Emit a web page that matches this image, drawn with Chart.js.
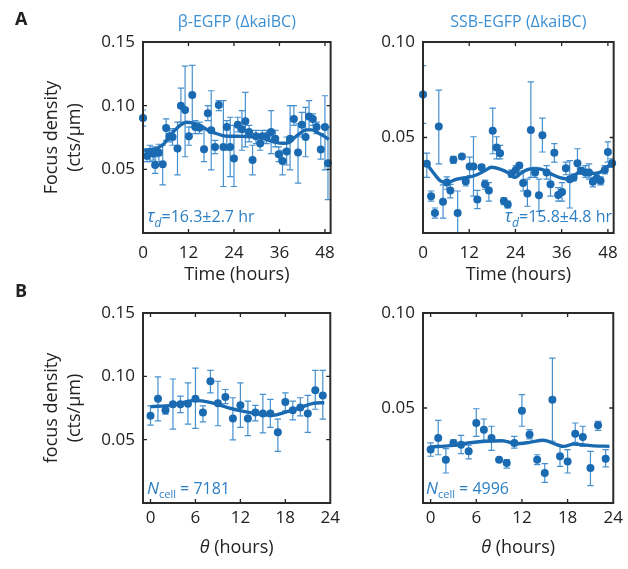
<!DOCTYPE html>
<html><head><meta charset="utf-8">
<script src="https://cdn.jsdelivr.net/npm/chart.js@4.4.1/dist/chart.umd.min.js"></script>
<style>
html,body{margin:0;padding:0;background:#fff;}
#wrap{position:relative;width:628px;height:569px;overflow:hidden;background:#fff;}
canvas{position:absolute;}
</style></head><body>
<div id="wrap">
<canvas id="cA1" width="345" height="284" style="left:0;top:0"></canvas>
<canvas id="cA2" width="283" height="284" style="left:345px;top:0"></canvas>
<canvas id="cB1" width="345" height="285" style="left:0;top:284px"></canvas>
<canvas id="cB2" width="283" height="285" style="left:345px;top:284px"></canvas>
</div>
<script>
// ---------- Panel A left: beta-EGFP (time course) ----------
const a1Time = [0, 1.1, 1.8, 2.7, 3.2, 4.2, 5.2, 6.1, 7.0, 7.8, 9.1, 10.0, 11.1, 12.1, 13.0, 13.8, 14.9, 16.1, 17.1, 18.0, 19.0, 20.0, 21.2, 22.1, 23.0, 24.0, 25.0, 26.1, 27.0, 28.0, 28.9, 29.8, 30.9, 31.5, 32.6, 33.8, 34.9, 35.8, 36.8, 37.9, 38.8, 39.8, 40.9, 41.9, 42.9, 43.8, 44.8, 45.8, 46.9, 48.0, 48.8];
const a1Density = [0.0904, 0.0604, 0.0637, 0.0624, 0.0534, 0.063, 0.0539, 0.0824, 0.0759, 0.0754, 0.0663, 0.100, 0.0966, 0.0759, 0.1083, 0.0832, 0.0826, 0.0658, 0.094, 0.0806, 0.0676, 0.1005, 0.0676, 0.0832, 0.0676, 0.0586, 0.085, 0.0814, 0.0878, 0.0793, 0.0573, 0.0759, 0.0702, 0.0759, 0.0759, 0.0793, 0.0741, 0.0619, 0.0565, 0.064, 0.0741, 0.0896, 0.0632, 0.085, 0.0754, 0.0915, 0.0896, 0.0832, 0.0656, 0.0832, 0.0547];
const a1Upper = [0.0966, 0.0663, 0.0689, 0.0676, 0.0598, 0.0697, 0.0689, 0.0896, 0.0806, 0.0819, 0.087, 0.1137, 0.1311, 0.0832, 0.1316, 0.0883, 0.087, 0.0819, 0.100, 0.1117, 0.0728, 0.1039, 0.1039, 0.0883, 0.0909, 0.0845, 0.0909, 0.0961, 0.1104, 0.0845, 0.0689, 0.0806, 0.0754, 0.0806, 0.0806, 0.0961, 0.0806, 0.0676, 0.065, 0.0754, 0.100, 0.100, 0.0858, 0.0948, 0.0987, 0.1039, 0.0935, 0.087, 0.078, 0.1078, 0.0832];
const a1Lower = [0.0839, 0.056, 0.056, 0.0573, 0.0469, 0.056, 0.0378, 0.0728, 0.0715, 0.0689, 0.0456, 0.087, 0.0599, 0.0689, 0.0832, 0.078, 0.078, 0.056, 0.0883, 0.0495, 0.0624, 0.0961, 0.0365, 0.065, 0.0443, 0.0365, 0.0793, 0.065, 0.0676, 0.0715, 0.0456, 0.0702, 0.065, 0.0715, 0.0702, 0.0624, 0.0676, 0.056, 0.0456, 0.0534, 0.0495, 0.0845, 0.0391, 0.0754, 0.0599, 0.0806, 0.0845, 0.078, 0.058, 0.0495, 0.0262];
const a1FitTime = [0.3, 2, 4, 5.5, 7, 8.5, 10, 11.5, 13, 15, 17, 19, 21, 23, 25, 27, 29, 31, 33, 35, 37, 38.5, 40, 41.5, 43, 44.5, 46, 47.5, 49];
const a1FitDensity = [0.0645, 0.065, 0.067, 0.070, 0.076, 0.081, 0.085, 0.087, 0.0865, 0.0845, 0.081, 0.0785, 0.0765, 0.076, 0.076, 0.0758, 0.0755, 0.0748, 0.073, 0.0712, 0.0705, 0.071, 0.075, 0.0785, 0.081, 0.081, 0.079, 0.0765, 0.0735];

// ---------- Panel A right: SSB-EGFP (time course) ----------
const a2Time = [0, 1.0, 2.1, 3.1, 4.1, 5.2, 6.2, 7.1, 7.9, 9.0, 10.1, 11.1, 12.1, 13.1, 14.1, 15.2, 16.1, 17.1, 18.1, 19.1, 20.0, 21.0, 22.0, 23.0, 24.1, 25.0, 26.0, 27.1, 28.0, 29.1, 30.1, 31.0, 32.1, 33.1, 34.1, 35.1, 36.1, 37.1, 38.1, 39.1, 40.1, 41.1, 42.2, 43.1, 44.1, 45.1, 46.1, 47.2, 48.0, 49.1];
const a2Density = [0.0725, 0.0362, 0.0193, 0.0105, 0.0557, 0.0163, 0.0264, 0.0223, 0.0383, 0.0105, 0.0401, 0.027, 0.0348, 0.0348, 0.0176, 0.0344, 0.0255, 0.0223, 0.0535, 0.0447, 0.0418, 0.0167, 0.0149, 0.0309, 0.033, 0.0353, 0.0262, 0.0207, 0.0539, 0.0317, 0.0197, 0.0512, 0.0317, 0.0255, 0.042, 0.0199, 0.0215, 0.0339, 0.0282, 0.0291, 0.0365, 0.0326, 0.0317, 0.0317, 0.0268, 0.0287, 0.0273, 0.033, 0.0424, 0.0365];
const a2Upper = [0.0876, 0.0418, 0.022, 0.0131, 0.0748, 0.0252, 0.0294, 0.0255, 0.0401, 0.022, 0.0411, 0.0294, 0.0397, 0.0504, 0.0223, 0.0358, 0.0277, 0.0264, 0.0654, 0.0504, 0.0459, 0.0184, 0.0167, 0.033, 0.0353, 0.0365, 0.0326, 0.0282, 0.0791, 0.0344, 0.0282, 0.0601, 0.0353, 0.0309, 0.0468, 0.0238, 0.0264, 0.0371, 0.0379, 0.0309, 0.0441, 0.0344, 0.0353, 0.0362, 0.0291, 0.0309, 0.0294, 0.0353, 0.0477, 0.0388];
const a2Lower = [0.0574, 0.0291, 0.0167, 0.0078, 0.0362, 0.0078, 0.0229, 0.0184, 0.0365, -0.002, 0.0388, 0.0246, 0.03, 0.0193, 0.0128, 0.033, 0.0229, 0.0167, 0.0415, 0.0388, 0.0388, 0.0149, 0.0131, 0.0291, 0.0309, 0.034, 0.022, 0.014, 0.0291, 0.0291, 0.0113, 0.0424, 0.0282, 0.0193, 0.0371, 0.0167, 0.0167, 0.0305, 0.0131, 0.0273, 0.0309, 0.0309, 0.0291, 0.0282, 0.0241, 0.0264, 0.0252, 0.0309, 0.0371, 0.0344];
const a2FitTime = [0, 1, 2.3, 4.5, 6.2, 8.8, 11.4, 14, 16, 17.8, 20, 22, 23.9, 25.2, 27.8, 30.3, 32.9, 35.5, 38.1, 39.8, 41.6, 44, 45.9, 47.6, 49];
const a2FitDensity = [0.0362, 0.0358, 0.0326, 0.0273, 0.0264, 0.0282, 0.029, 0.0305, 0.0326, 0.0344, 0.0335, 0.0317, 0.0291, 0.031, 0.0335, 0.0335, 0.0312, 0.029, 0.0282, 0.0309, 0.0326, 0.0312, 0.0317, 0.0344, 0.0362];

// ---------- Panel B left: beta-EGFP vs phase ----------
const b1Phase = [0, 1, 2, 3, 4, 5, 6, 7, 8, 9, 10, 11, 12, 13, 14, 15, 16, 17, 18, 19, 20, 21, 22, 23];
const b1Density = [0.0688, 0.0823, 0.0732, 0.0779, 0.0779, 0.0784, 0.0823, 0.0714, 0.0961, 0.0787, 0.0836, 0.0667, 0.0771, 0.0667, 0.0714, 0.0706, 0.0706, 0.0558, 0.0797, 0.0732, 0.0753, 0.0706, 0.0891, 0.0849];
const b1Upper = [0.0766, 0.0995, 0.0771, 0.0979, 0.0844, 0.0948, 0.1065, 0.0766, 0.1047, 0.0961, 0.0896, 0.0831, 0.0948, 0.0805, 0.0771, 0.0857, 0.0818, 0.0662, 0.087, 0.0805, 0.0831, 0.0849, 0.1047, 0.1047];
const b1Lower = [0.0615, 0.0649, 0.0701, 0.0584, 0.0714, 0.0623, 0.0589, 0.0641, 0.087, 0.061, 0.0784, 0.0498, 0.0597, 0.0532, 0.0649, 0.0553, 0.0597, 0.0407, 0.0727, 0.0657, 0.0688, 0.0558, 0.074, 0.0662];
const b1FitPhase = [0, 2.9, 5.9, 8.1, 10.3, 12.1, 14.7, 16.4, 17.8, 20, 21.7, 23.2];
const b1FitDensity = [0.0761, 0.0771, 0.081, 0.0792, 0.0753, 0.0727, 0.0701, 0.0693, 0.0714, 0.0753, 0.0787, 0.0792];

// ---------- Panel B right: SSB-EGFP vs phase ----------
const b2Phase = [0, 1, 2, 3, 4, 5, 6, 7, 8, 9, 10, 11, 12, 13, 14, 15, 16, 17, 18, 19, 20, 21, 22, 23];
const b2Density = [0.0281, 0.0342, 0.0228, 0.0316, 0.0307, 0.0272, 0.0421, 0.0386, 0.0342, 0.0228, 0.0211, 0.0316, 0.0486, 0.036, 0.0228, 0.0158, 0.0544, 0.0246, 0.0219, 0.0365, 0.0347, 0.0184, 0.0409, 0.0233];
const b2Upper = [0.0316, 0.0435, 0.0286, 0.0333, 0.0356, 0.0304, 0.0496, 0.0442, 0.0404, 0.0237, 0.0228, 0.0351, 0.057, 0.0386, 0.0254, 0.0207, 0.0763, 0.0298, 0.0281, 0.0421, 0.0404, 0.0272, 0.043, 0.0281];
const b2Lower = [0.0246, 0.0254, 0.0158, 0.0298, 0.026, 0.0232, 0.0351, 0.033, 0.0277, 0.0219, 0.0184, 0.0289, 0.0404, 0.0337, 0.0202, 0.0109, 0.0325, 0.0193, 0.0158, 0.0319, 0.0298, 0.0091, 0.0382, 0.019];
const b2FitPhase = [0, 2.6, 4.9, 7.1, 9.4, 11.2, 13, 14.8, 16.6, 17.5, 18.8, 21.1, 23.5];
const b2FitDensity = [0.0295, 0.0302, 0.0316, 0.0325, 0.0328, 0.0312, 0.0319, 0.033, 0.0307, 0.0298, 0.031, 0.0302, 0.0298];

// ---------- Text ----------
const panelTitles = ['β-EGFP (ΔkaiBC)', 'SSB-EGFP (ΔkaiBC)'];
const yTitleA = ['Focus density', '(cts/μm)'];
const yTitleB = ['focus density', '(cts/μm)'];

// ---------- Styling ----------
const FONT = '"Open Sans", "Noto Sans", sans-serif';
const DOT = '#1a6ab2';
const ERR = '#4690cf';
const TXT = '#222222';
const TITLE_C = '#3b8fd3';
const NOTE_C = '#2d7fc4';

function drawRuns(ctx, runs, x, y, align) {
  let w = 0;
  runs.forEach(r => { ctx.font = r.font; r.w = ctx.measureText(r.text).width; w += r.w; });
  let cx = align === 'center' ? x - w / 2 : (align === 'right' ? x - w : x);
  ctx.textAlign = 'left';
  ctx.textBaseline = 'alphabetic';
  runs.forEach(r => { ctx.font = r.font; ctx.fillText(r.text, cx, y + (r.dy || 0)); cx += r.w; });
}

function makePanel(p) {
  const ox = p.offset[0], oy = p.offset[1];
  const W = p.size[0], H = p.size[1];
  const L = p.area[0] - ox, T = p.area[1] - oy, R = p.area[2] - ox, B = p.area[3] - oy;
  const decor = {
    id: 'decor',
    beforeDatasetsDraw(chart) {
      const {ctx, chartArea: a} = chart;
      const xs = chart.scales.x, ys = chart.scales.y;
      ctx.save();
      ctx.beginPath();
      ctx.rect(a.left, a.top, a.right - a.left, a.bottom - a.top);
      ctx.clip();
      ctx.strokeStyle = ERR;
      ctx.lineWidth = 1.2;
      p.xs.forEach((t, i) => {
        const px = xs.getPixelForValue(t);
        const y1 = ys.getPixelForValue(p.hi[i]);
        const y2 = ys.getPixelForValue(p.lo[i]);
        ctx.beginPath();
        ctx.moveTo(px, y1); ctx.lineTo(px, y2);
        ctx.moveTo(px - 3.2, y1); ctx.lineTo(px + 3.2, y1);
        ctx.moveTo(px - 3.2, y2); ctx.lineTo(px + 3.2, y2);
        ctx.stroke();
      });
      ctx.restore();
    },
    afterDraw(chart) {
      const {ctx, chartArea: a} = chart;
      const xs = chart.scales.x, ys = chart.scales.y;
      ctx.save();
      // inward ticks
      ctx.strokeStyle = TXT;
      ctx.lineWidth = 1.3;
      ctx.beginPath();
      xs.ticks.forEach(tk => {
        const px = xs.getPixelForValue(tk.value);
        if (px <= a.left + 1 || px >= a.right - 1) return;
        ctx.moveTo(px, a.bottom); ctx.lineTo(px, a.bottom - 4);
        ctx.moveTo(px, a.top); ctx.lineTo(px, a.top + 4);
      });
      ys.ticks.forEach(tk => {
        const py = ys.getPixelForValue(tk.value);
        if (py <= a.top + 1 || py >= a.bottom - 1) return;
        ctx.moveTo(a.left, py); ctx.lineTo(a.left + 4, py);
        ctx.moveTo(a.right, py); ctx.lineTo(a.right - 4, py);
      });
      ctx.stroke();
      // box
      ctx.lineWidth = 2;
      ctx.strokeStyle = '#2b2b2b';
      ctx.strokeRect(a.left, a.top, a.right - a.left, a.bottom - a.top);
      // texts
      const cxp = (a.left + a.right) / 2;
      if (p.title) {
        ctx.fillStyle = TITLE_C;
        drawRuns(ctx, [{text: p.title, font: '16px ' + FONT}], cxp, p.titleY - oy, 'center');
      }
      ctx.fillStyle = TXT;
      drawRuns(ctx, p.xTitle, cxp, p.xTitleY - oy, 'center');
      if (p.yTitle) {
        const cy = (a.top + a.bottom) / 2;
        p.yTitle.forEach((line, i) => {
          ctx.save();
          ctx.translate(p.yTitleX[i] - ox, cy);
          ctx.rotate(-Math.PI / 2);
          drawRuns(ctx, [{text: line, font: '18px ' + FONT}], 0, 0, 'center');
          ctx.restore();
        });
      }
      if (p.letter) {
        drawRuns(ctx, [{text: p.letter, font: 'bold 18px ' + FONT}], p.letterPos[0] - ox, p.letterPos[1] - oy, 'left');
      }
      ctx.fillStyle = NOTE_C;
      drawRuns(ctx, p.note, p.notePos[0] - ox, p.notePos[1] - oy, p.noteAlign);
      ctx.restore();
    }
  };
  return new Chart(document.getElementById(p.id), {
    type: 'scatter',
    data: {
      datasets: [
        {
          type: 'line',
          data: p.fx.map((t, i) => ({x: t, y: p.fy[i]})),
          borderColor: DOT, borderWidth: 3.4, pointRadius: 0,
          cubicInterpolationMode: 'monotone', fill: false
        },
        {
          type: 'scatter',
          data: p.xs.map((t, i) => ({x: t, y: p.ys[i]})),
          backgroundColor: DOT, borderColor: DOT, borderWidth: 0,
          pointRadius: 4, clip: false
        }
      ]
    },
    options: {
      responsive: false, animation: false, events: [],
      layout: {padding: {left: 0, top: T, right: W - R, bottom: 0}},
      plugins: {legend: {display: false}, tooltip: {enabled: false}},
      scales: {
        x: {
          type: 'linear', min: p.xMin, max: p.xMax,
          afterFit(s) { s.height = H - B; },
          grid: {display: false, drawTicks: false},
          border: {display: false},
          ticks: {stepSize: p.xStep, includeBounds: false, padding: p.xPad, autoSkip: false, maxRotation: 0,
                  color: TXT, font: {family: FONT, size: 17}}
        },
        y: {
          type: 'linear', min: 0, max: p.yMax,
          afterFit(s) { s.width = L; },
          grid: {display: false, drawTicks: false},
          border: {display: false},
          ticks: {stepSize: 0.05, includeBounds: false, padding: 8, color: TXT,
                  font: {family: FONT, size: 17},
                  callback: v => (Math.abs(v) < 1e-9 ? '' : v.toFixed(2))}
        }
      }
    },
    plugins: [decor]
  });
}

const noteMain = '16px ' + FONT;
makePanel({
  id: 'cA1', offset: [0, 0], size: [345, 284], area: [143, 42, 334, 233],
  xs: a1Time, ys: a1Density, hi: a1Upper, lo: a1Lower, fx: a1FitTime, fy: a1FitDensity,
  xMin: 0, xMax: 49.5, xStep: 12, yMax: 0.15, xPad: 10,
  title: panelTitles[0], titleY: 27,
  xTitle: [{text: 'Time (hours)', font: '18px ' + FONT}], xTitleY: 280,
  yTitle: yTitleA, yTitleX: [57, 80],
  letter: 'A', letterPos: [15, 25],
  note: [{text: 'τ', font: 'italic 18px ' + FONT}, {text: 'd', font: 'italic 12px ' + FONT, dy: 5}, {text: '=16.3±2.7 hr', font: noteMain}],
  notePos: [147, 222], noteAlign: 'left'
});
makePanel({
  id: 'cA2', offset: [345, 0], size: [283, 284], area: [423, 42, 615, 233],
  xs: a2Time, ys: a2Density, hi: a2Upper, lo: a2Lower, fx: a2FitTime, fy: a2FitDensity,
  xMin: 0, xMax: 49.5, xStep: 12, yMax: 0.10, xPad: 10,
  title: panelTitles[1], titleY: 27,
  xTitle: [{text: 'Time (hours)', font: '18px ' + FONT}], xTitleY: 280,
  note: [{text: 'τ', font: 'italic 18px ' + FONT}, {text: 'd', font: 'italic 12px ' + FONT, dy: 5}, {text: '=15.8±4.8 hr', font: noteMain}],
  notePos: [612, 222], noteAlign: 'right'
});
makePanel({
  id: 'cB1', offset: [0, 284], size: [345, 285], area: [143, 313, 334, 503],
  xs: b1Phase, ys: b1Density, hi: b1Upper, lo: b1Lower, fx: b1FitPhase, fy: b1FitDensity,
  xMin: -1, xMax: 24, xStep: 6, yMax: 0.15, xPad: 5,
  xTitle: [{text: 'θ', font: 'italic 18px ' + FONT}, {text: ' (hours)', font: '18px ' + FONT}], xTitleY: 553,
  yTitle: yTitleB, yTitleX: [57, 80],
  letter: 'B', letterPos: [15, 297],
  note: [{text: 'N', font: 'italic 17px ' + FONT}, {text: 'cell', font: '11px ' + FONT, dy: 4}, {text: ' = 7181', font: noteMain}],
  notePos: [147, 494], noteAlign: 'left'
});
makePanel({
  id: 'cB2', offset: [345, 284], size: [283, 285], area: [423, 313, 615, 503],
  xs: b2Phase, ys: b2Density, hi: b2Upper, lo: b2Lower, fx: b2FitPhase, fy: b2FitDensity,
  xMin: -1, xMax: 24, xStep: 6, yMax: 0.10, xPad: 5,
  xTitle: [{text: 'θ', font: 'italic 18px ' + FONT}, {text: ' (hours)', font: '18px ' + FONT}], xTitleY: 553,
  note: [{text: 'N', font: 'italic 17px ' + FONT}, {text: 'cell', font: '11px ' + FONT, dy: 4}, {text: ' = 4996', font: noteMain}],
  notePos: [426, 494], noteAlign: 'left'
});
</script>
</body></html>
